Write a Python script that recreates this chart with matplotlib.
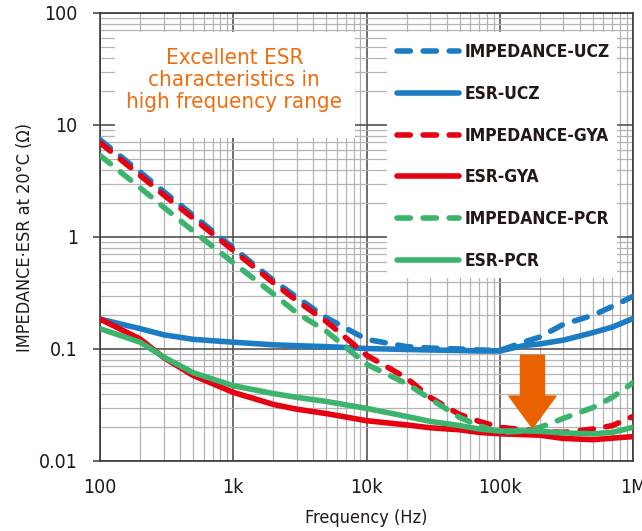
import matplotlib
matplotlib.use("Agg")
import matplotlib.pyplot as plt
from matplotlib.patches import Rectangle

plt.rcParams['font.family'] = ['DejaVu Sans']
plt.rcParams['font.stretch'] = 'condensed'

# frequency points (Hz) the curves were read at
freq = [100, 200, 300, 500, 1e3, 2e3, 3e3, 5e3, 1e4, 2e4, 3e4, 5e4, 7e4,
        1e5, 1.5e5, 2e5, 3e5, 5e5, 7e5, 1e6]

imp_ucz = [7.4, 3.8, 2.55, 1.56, 0.80, 0.41, 0.29, 0.19, 0.122, 0.105, 0.102, 0.100, 0.098,
           0.097, 0.115, 0.128, 0.166, 0.20, 0.24, 0.295]
esr_ucz = [0.185, 0.152, 0.134, 0.122, 0.115, 0.109, 0.107, 0.105, 0.101, 0.099, 0.098, 0.097, 0.096,
           0.096, 0.107, 0.111, 0.12, 0.14, 0.157, 0.187]
imp_gya = [6.95, 3.55, 2.38, 1.47, 0.76, 0.39, 0.27, 0.176, 0.088, 0.055, 0.037, 0.026, 0.0226,
           0.020, 0.019, 0.0185, 0.018, 0.0193, 0.0207, 0.025]
esr_gya = [0.185, 0.123, 0.084, 0.058, 0.041, 0.032, 0.029, 0.0265, 0.0229, 0.021, 0.0198, 0.019, 0.018,
           0.0175, 0.0172, 0.017, 0.0159, 0.0155, 0.016, 0.0165]
imp_pcr = [5.35, 2.75, 1.85, 1.13, 0.59, 0.31, 0.21, 0.144, 0.073, 0.049, 0.036, 0.0245, 0.0207,
           0.018, 0.0185, 0.020, 0.024, 0.030, 0.037, 0.050]
esr_pcr = [0.152, 0.115, 0.085, 0.0614, 0.047, 0.040, 0.037, 0.034, 0.0295, 0.025, 0.0226, 0.0207, 0.0193,
           0.0185, 0.0186, 0.0184, 0.0178, 0.0175, 0.018, 0.020]

x_ticks = [1e2, 1e3, 1e4, 1e5, 1e6]
x_tick_labels = ['100', '1k', '10k', '100k', '1M']
y_ticks = [0.01, 0.1, 1, 10, 100]
y_tick_labels = ['0.01', '0.1', '1', '10', '100']

# the orange arrow (frequency, top, tip)
arrow_freq = 1.76e5
arrow_top = 0.088
arrow_tip = 0.0197

BLUE = '#1b7cc3'
RED = '#e60012'
GREEN = '#3db46d'
ORANGE = '#e96100'
NOTE = '#ef6c0f'
INK = '#231815'

fig = plt.figure(figsize=(6.42, 5.31), dpi=100)
ax = fig.add_axes([100 / 642, 1 - 461 / 531, 533 / 642, 448 / 531])
ax.set_xscale('log')
ax.set_yscale('log')
ax.set_xlim(1e2, 1e6)
ax.set_ylim(0.01, 100)

ax.set_axisbelow(True)
ax.grid(which='minor', color='#b4b4b4', linewidth=0.9)
ax.grid(which='major', color='#4a4444', linewidth=1.1)
for sp in ax.spines.values():
    sp.set_color('#3e3a39')
    sp.set_linewidth(1.2)

lw = 4
dash = (0, (2.4, 2.3))
series = [
    (imp_ucz, BLUE, dash, 'IMPEDANCE-UCZ'),
    (esr_ucz, BLUE, '-', 'ESR-UCZ'),
    (imp_gya, RED, dash, 'IMPEDANCE-GYA'),
    (esr_gya, RED, '-', 'ESR-GYA'),
    (imp_pcr, GREEN, dash, 'IMPEDANCE-PCR'),
    (esr_pcr, GREEN, '-', 'ESR-PCR'),
]
for vals, col, ls, name in series:
    ax.plot(freq, vals, color=col, linestyle=ls, linewidth=lw, label=name,
            dash_capstyle='round', solid_capstyle='round', zorder=3)

ax.set_xticks(x_ticks, x_tick_labels)
ax.set_yticks(y_ticks, y_tick_labels)
ax.tick_params(which='minor', length=0)
ax.tick_params(axis='y', which='major', direction='out', length=5, width=1.1,
               color='#3e3a39', pad=11, labelsize=14, labelcolor=INK)
ax.tick_params(axis='x', which='major', length=0, pad=12, labelsize=14, labelcolor=INK)

ax.set_xlabel('Frequency (Hz)', fontsize=13, color=INK)
ax.xaxis.set_label_coords(0.5, -0.108)
ax.set_ylabel('IMPEDANCE·ESR at 20°C (Ω)', fontsize=13, color=INK)
ax.yaxis.set_label_coords(-0.124, 0.5)

# white boxes behind the note and the legend
ax.add_patch(Rectangle((0.028, 0.721), 0.45, 0.237, transform=ax.transAxes,
                       facecolor='white', edgecolor='none', zorder=2))
ax.add_patch(Rectangle((0.538, 0.408), 0.432, 0.55, transform=ax.transAxes,
                       facecolor='white', edgecolor='none', zorder=2))

ax.text(0.252, 0.85, 'Excellent ESR\ncharacteristics in\nhigh frequency range',
        transform=ax.transAxes, ha='center', va='center', color=NOTE,
        fontsize=16, linespacing=1.12, zorder=4)

leg = ax.legend(loc='upper left', bbox_to_anchor=(0.557, 0.933), frameon=False,
                borderpad=0, borderaxespad=0, handlelength=3.6, handletextpad=0.29,
                labelspacing=1.37, prop={'weight': 'bold', 'size': 12.5})
leg.set_zorder(5)
for t in leg.get_texts():
    t.set_color(INK)

ax.annotate('', xy=(arrow_freq, arrow_tip), xytext=(arrow_freq, arrow_top),
            arrowprops=dict(arrowstyle='simple,head_length=1.33,head_width=1.96,tail_width=1.0',
                            mutation_scale=17.3, color=ORANGE, shrinkA=0, shrinkB=0),
            zorder=6)

fig.savefig('out.png', dpi=100)
